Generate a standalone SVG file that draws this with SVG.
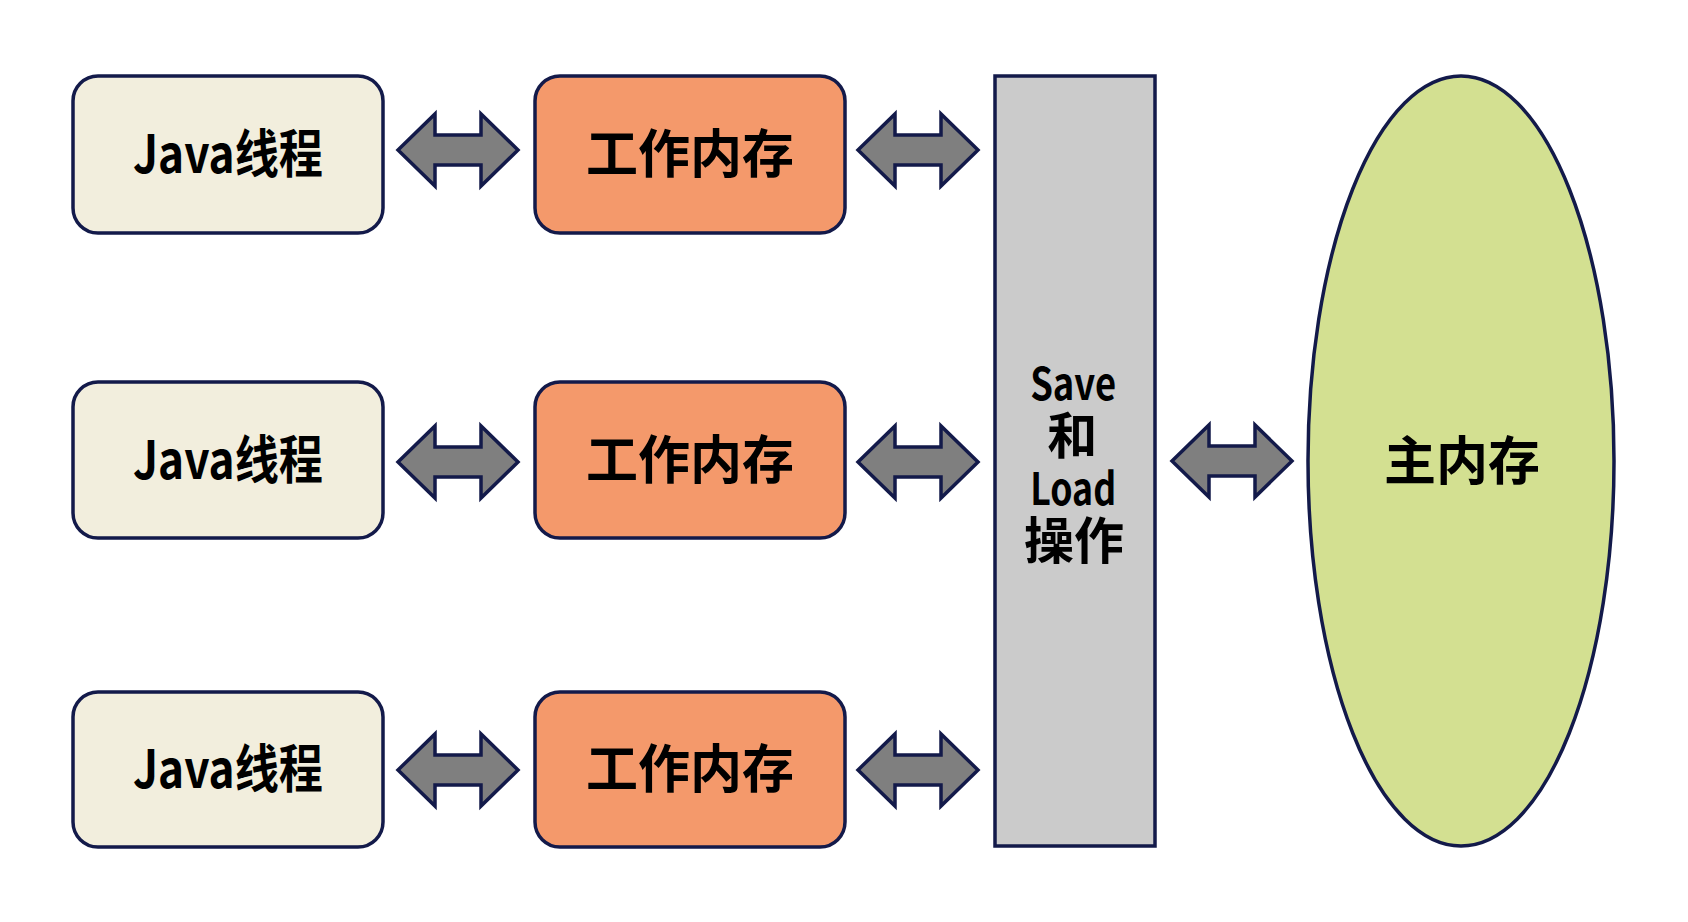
<svg xmlns="http://www.w3.org/2000/svg" width="1688" height="922" viewBox="0 0 1688 922">
  <style>
    .thread { fill: #f2eedd; stroke: #131a4a; stroke-width: 3.5; }
    .work { fill: #f4996b; stroke: #131a4a; stroke-width: 3.5; }
    .bus { fill: #cbcbcb; stroke: #131a4a; stroke-width: 3.5; }
    .main { fill: #d3e091; stroke: #131a4a; stroke-width: 3.5; }
    .arrow { fill: #7f7f7f; stroke: #131a4a; stroke-width: 3.5; stroke-linejoin: miter; }
    .label { font-family: "Noto Sans CJK SC", "Noto Sans", sans-serif; font-weight: 700; fill: #000; text-anchor: middle; dominant-baseline: central; }
    .big { font-size: 52px; }
    .mid { font-size: 50px; }
    .latin { font-size: 44px; }
  </style>
  <defs>
    <!-- double-headed block arrow, centred on the origin -->
    <path id="dbl" class="arrow" d="M-60,0 L-23,-36 L-23,-15 L23,-15 L23,-36 L60,0 L23,36 L23,15 L-23,15 L-23,36 Z"/>
  </defs>

  <rect width="1688" height="922" fill="#ffffff"/>

  <!-- Java threads -->
  <g id="thread1">
    <rect class="thread" x="73" y="76" width="310" height="157" rx="25"/>
    <text class="label big" x="228" y="150" textLength="190" lengthAdjust="spacingAndGlyphs">Java线程</text>
  </g>
  <g id="thread2">
    <rect class="thread" x="73" y="382" width="310" height="156" rx="25"/>
    <text class="label big" x="228" y="456" textLength="190" lengthAdjust="spacingAndGlyphs">Java线程</text>
  </g>
  <g id="thread3">
    <rect class="thread" x="73" y="692" width="310" height="155" rx="25"/>
    <text class="label big" x="228" y="765" textLength="190" lengthAdjust="spacingAndGlyphs">Java线程</text>
  </g>

  <!-- working memories -->
  <g id="work1">
    <rect class="work" x="535" y="76" width="310" height="157" rx="25"/>
    <text class="label big" x="690" y="150">工作内存</text>
  </g>
  <g id="work2">
    <rect class="work" x="535" y="382" width="310" height="156" rx="25"/>
    <text class="label big" x="690" y="456">工作内存</text>
  </g>
  <g id="work3">
    <rect class="work" x="535" y="692" width="310" height="155" rx="25"/>
    <text class="label big" x="690" y="765">工作内存</text>
  </g>

  <!-- save / load bar -->
  <g id="saveload">
    <rect class="bus" x="995" y="76" width="160" height="770"/>
    <text class="label">
      <tspan class="latin" x="1075" y="381" textLength="86" lengthAdjust="spacingAndGlyphs">Save</tspan>
      <tspan class="mid" x="1074" y="432">和</tspan>
      <tspan class="latin" x="1075" y="486" textLength="86" lengthAdjust="spacingAndGlyphs">Load</tspan>
      <tspan class="mid" x="1074" y="537">操作</tspan>
    </text>
  </g>

  <!-- main memory -->
  <g id="mainmem">
    <ellipse class="main" cx="1461" cy="461" rx="153" ry="385"/>
    <text class="label big" x="1462" y="457">主内存</text>
  </g>

  <!-- two-way connectors -->
  <g id="connectors">
    <use href="#dbl" transform="translate(458,150)"/>
    <use href="#dbl" transform="translate(918,150)"/>
    <use href="#dbl" transform="translate(458,462)"/>
    <use href="#dbl" transform="translate(918,462)"/>
    <use href="#dbl" transform="translate(458,770)"/>
    <use href="#dbl" transform="translate(918,770)"/>
    <use href="#dbl" transform="translate(1232,461)"/>
  </g>
</svg>
